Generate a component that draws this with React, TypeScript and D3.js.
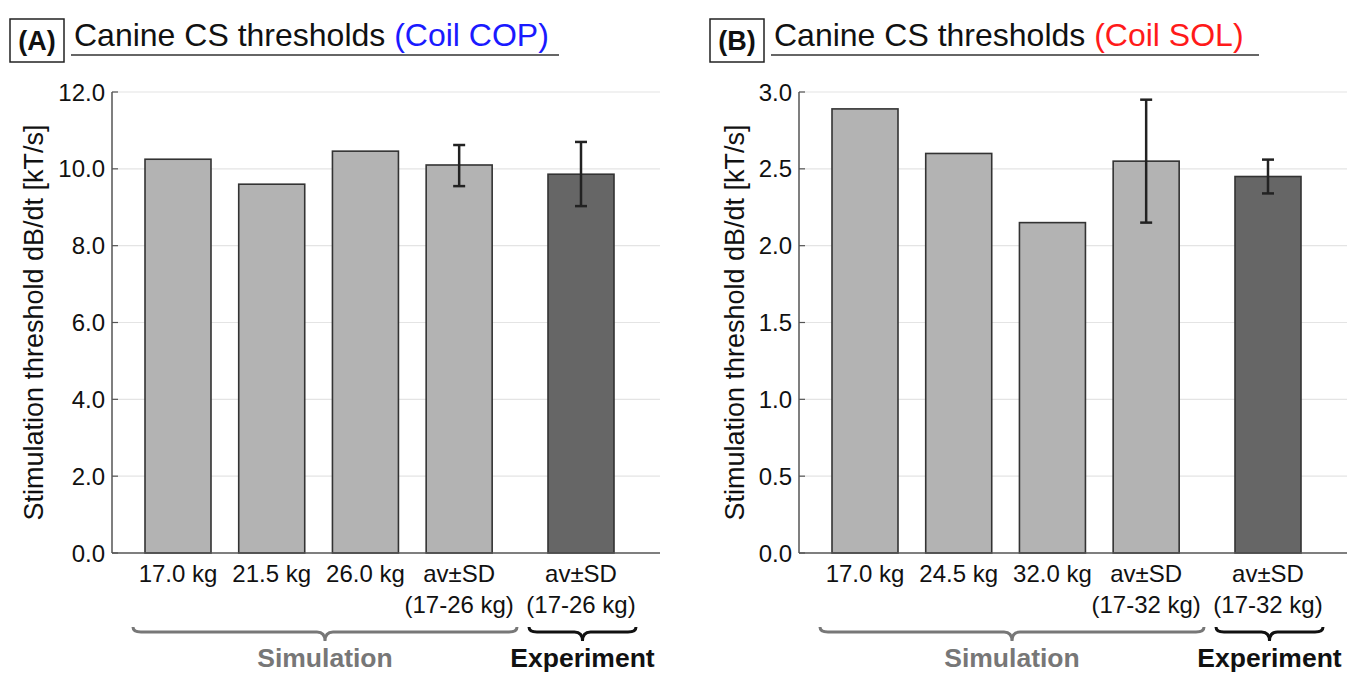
import * as d3 from 'd3';

// panel A (Coil COP)
const labelsA = [['17.0 kg'], ['21.5 kg'], ['26.0 kg'], ['av±SD', '(17-26 kg)'], ['av±SD', '(17-26 kg)']];
const valuesA = [10.25, 9.6, 10.46, 10.1, 9.86];
const errLowA = [null, null, null, 9.55, 9.03];
const errHighA = [null, null, null, 10.62, 10.7];
const ticksA = [0, 2, 4, 6, 8, 10, 12];

// panel B (Coil SOL)
const labelsB = [['17.0 kg'], ['24.5 kg'], ['32.0 kg'], ['av±SD', '(17-32 kg)'], ['av±SD', '(17-32 kg)']];
const valuesB = [2.89, 2.6, 2.15, 2.55, 2.45];
const errLowB = [null, null, null, 2.15, 2.34];
const errHighB = [null, null, null, 2.95, 2.56];
const ticksB = [0, 0.5, 1, 1.5, 2, 2.5, 3];

// bar slots: 4 simulation bars, a gap, then the experiment bar
const slots = [0, 1, 2, 3, 4.3];
const kinds = ['sim', 'sim', 'sim', 'sim', 'exp'];

const FONT = '"Liberation Sans", Arial, sans-serif';
const TOP = 92;
const BOTTOM = 553;
const BAR_W = 66;

type PanelProps = {
  ox: number;
  tx: number;
  labelX: number;
  letter: string;
  coil: string;
  coilColor: string;
  labels: string[][];
  values: number[];
  errLow: (number | null)[];
  errHigh: (number | null)[];
  ticks: number[];
  fmt: (v: number) => string;
};

const brace = (x1: number, x2: number, y0: number) => {
  const mid = (x1 + x2) / 2;
  const y1 = y0 + 5;
  const y2 = y0 + 14;
  const r = 8;
  return `M${x1},${y0} Q${x1},${y1} ${x1 + r},${y1} L${mid - r},${y1} Q${mid},${y1} ${mid},${y2} Q${mid},${y1} ${mid + r},${y1} L${x2 - r},${y1} Q${x2},${y1} ${x2},${y0}`;
};

const Panel = ({ ox, tx, labelX, letter, coil, coilColor, labels, values, errLow, errHigh, ticks, fmt }: PanelProps) => {
  const axisX = ox + 112;
  const right = ox + 660;
  const yScale = d3.scaleLinear().domain([0, ticks[ticks.length - 1]]).range([BOTTOM, TOP]);
  const xScale = d3.scaleLinear().domain([0, 4.3]).range([ox + 178, ox + 581]);

  const simL = ox + 133;
  const simR = ox + 517;
  const expL = xScale(4.3) - 52;
  const expR = xScale(4.3) + 55;

  return (
    <g fontFamily={FONT}>
      {/* title */}
      <rect x={tx + 10} y={19} width={54} height={43} fill="none" stroke="#222" strokeWidth={1.5} />
      <text x={tx + 37} y={50} textAnchor="middle" fontSize={27} fontWeight="bold" fill="#111">{`(${letter})`}</text>
      <text x={tx + 74} y={46} fontSize={32} fill="#111">
        Canine CS thresholds <tspan fill={coilColor}>{coil}</tspan>
      </text>
      <line x1={tx + 71} x2={tx + 559} y1={55} y2={55} stroke="#333" strokeWidth={1.5} />

      {/* grid */}
      {ticks.map((t) => (
        <g key={t}>
          {t > 0 && <line x1={axisX} x2={right} y1={yScale(t)} y2={yScale(t)} stroke="#e4e4e4" strokeWidth={1.2} />}
          <line x1={axisX} x2={axisX + 6} y1={yScale(t)} y2={yScale(t)} stroke="#555" strokeWidth={1.2} />
          <text x={axisX - 7} y={yScale(t) + 8.5} textAnchor="end" fontSize={24} fill="#111">{fmt(t)}</text>
        </g>
      ))}
      <text
        transform={`translate(${axisX - labelX},${(TOP + BOTTOM) / 2}) rotate(-90)`}
        textAnchor="middle"
        fontSize={27}
        fill="#111"
      >
        Stimulation threshold dB/dt [kT/s]
      </text>

      {/* bars */}
      {values.map((v, i) => {
        const cx = xScale(slots[i]);
        return (
          <rect
            key={i}
            x={cx - BAR_W / 2}
            y={yScale(v)}
            width={BAR_W}
            height={BOTTOM - yScale(v)}
            fill={kinds[i] === 'exp' ? '#666666' : '#b3b3b3'}
            stroke="#333"
            strokeWidth={1.6}
          />
        );
      })}
      {values.map((v, i) => {
        const lo = errLow[i];
        const hi = errHigh[i];
        if (lo == null || hi == null) return null;
        const cx = xScale(slots[i]);
        return (
          <g key={`e${i}`} stroke="#222" strokeWidth={2.5}>
            <line x1={cx} x2={cx} y1={yScale(hi)} y2={yScale(lo)} />
            <line x1={cx - 6} x2={cx + 6} y1={yScale(hi)} y2={yScale(hi)} />
            <line x1={cx - 6} x2={cx + 6} y1={yScale(lo)} y2={yScale(lo)} />
          </g>
        );
      })}

      {/* axes */}
      <line x1={axisX} x2={axisX} y1={TOP} y2={BOTTOM} stroke="#555" strokeWidth={1.5} />
      <line x1={axisX} x2={right} y1={BOTTOM} y2={BOTTOM} stroke="#555" strokeWidth={1.5} />

      {/* category labels */}
      {labels.map((lines, i) => (
        <text key={`l${i}`} x={xScale(slots[i])} y={582} textAnchor="middle" fontSize={24} fill="#111">
          {lines.map((s, j) => (
            <tspan key={j} x={xScale(slots[i])} dy={j === 0 ? 0 : 31}>{s}</tspan>
          ))}
        </text>
      ))}

      {/* group braces */}
      <path d={brace(simL, simR, 627)} fill="none" stroke="#777" strokeWidth={3} />
      <text x={(simL + simR) / 2} y={667} textAnchor="middle" fontSize={26.5} fontWeight="bold" fill="#777">Simulation</text>
      <path d={brace(expL, expR, 627)} fill="none" stroke="#111" strokeWidth={3} />
      <text x={(expL + expR) / 2} y={667} textAnchor="middle" fontSize={26.5} fontWeight="bold" fill="#111">Experiment</text>
    </g>
  );
};

export default function App() {
  return (
    <svg width={1356} height={673} style={{ display: 'block', position: 'absolute', left: 0, top: 0 }}>
      <rect width={1356} height={673} fill="#fff" />
      <Panel
        ox={0}
        tx={0}
        labelX={69}
        letter="A"
        coil="(Coil COP)"
        coilColor="#1a1aff"
        labels={labelsA}
        values={valuesA}
        errLow={errLowA}
        errHigh={errHighA}
        ticks={ticksA}
        fmt={d3.format('.1f')}
      />
      <Panel
        ox={687}
        tx={700}
        labelX={55}
        letter="B"
        coil="(Coil SOL)"
        coilColor="#ff1a1a"
        labels={labelsB}
        values={valuesB}
        errLow={errLowB}
        errHigh={errHighB}
        ticks={ticksB}
        fmt={d3.format('.1f')}
      />
    </svg>
  );
}
